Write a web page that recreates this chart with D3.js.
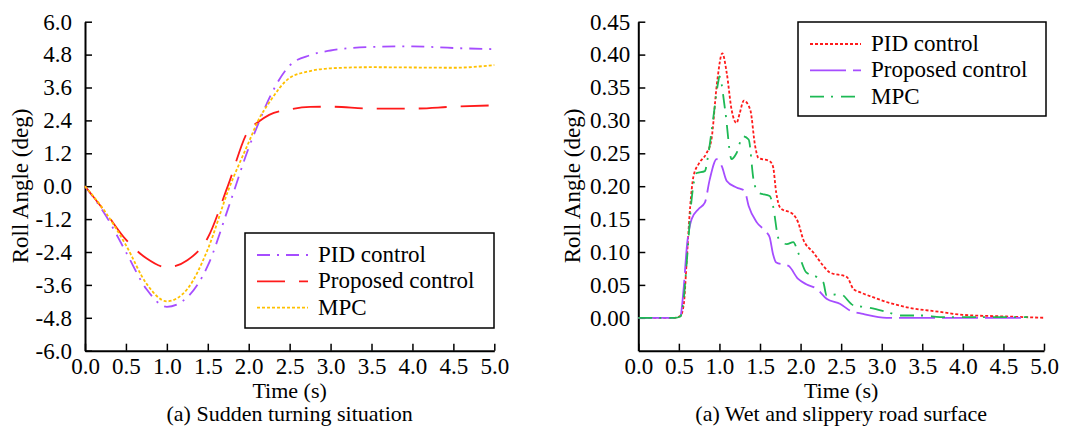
<!DOCTYPE html>
<html>
<head>
<meta charset="utf-8">
<script src="https://cdn.jsdelivr.net/npm/d3@7"></script>
<style>
  body { margin: 0; background: #fff; }
</style>
</head>
<body>
<div id="chart"></div>
<script>
// (a) sudden turning: shared time grid
const turnTime = [0, 0.25, 0.5, 0.75, 1.0, 1.25, 1.5, 1.75, 2.0, 2.12, 2.25, 2.5, 2.75, 3.0, 3.5, 4.0, 4.5, 5.0];
const turnPID  = [0, -1.05, -2.4, -3.75, -4.4, -4.05, -2.9, -0.8, 1.4, 2.3, 3.2, 4.4, 4.78, 4.95, 5.08, 5.1, 5.04, 5.0];
const turnProp = [0, -0.95, -1.95, -2.63, -2.96, -2.7, -1.88, 0.05, 2.05, 2.35, 2.6, 2.8, 2.89, 2.9, 2.83, 2.83, 2.9, 2.95];
const turnMPC  = [0, -0.95, -2.15, -3.55, -4.2, -3.75, -2.3, -0.15, 1.6, 2.42, 3.05, 3.95, 4.2, 4.3, 4.34, 4.33, 4.32, 4.42];

// (a) wet road: each series has its own time points
const wetPIDT  = [0, 0.45, 0.52, 0.56, 0.6, 0.64, 0.68, 0.75, 0.84, 0.9, 0.97, 1.035, 1.09, 1.15, 1.21, 1.25, 1.3, 1.38, 1.44, 1.48, 1.62, 1.66, 1.7, 1.75, 1.91, 1.97, 2.03, 2.16, 2.28, 2.36, 2.57, 2.65, 2.73, 2.9, 3.06, 3.31, 3.72, 4.0, 4.54, 5.0];
const wetPIDV  = [0, 0, 0.003, 0.02, 0.094, 0.17, 0.215, 0.235, 0.25, 0.27, 0.357, 0.402, 0.372, 0.316, 0.296, 0.311, 0.33, 0.316, 0.261, 0.243, 0.238, 0.23, 0.19, 0.167, 0.157, 0.145, 0.12, 0.099, 0.079, 0.069, 0.062, 0.044, 0.039, 0.031, 0.024, 0.016, 0.009, 0.0045, 0.002, 0];
const wetPropT = [0, 0.45, 0.52, 0.555, 0.6, 0.657, 0.74, 0.82, 0.88, 0.966, 1.03, 1.09, 1.21, 1.31, 1.36, 1.46, 1.58, 1.62, 1.66, 1.7, 1.85, 1.97, 2.07, 2.2, 2.32, 2.49, 2.61, 2.77, 3.06, 4.8];
const wetPropV = [0, 0, 0.003, 0.039, 0.11, 0.15, 0.165, 0.175, 0.21, 0.241, 0.23, 0.208, 0.198, 0.193, 0.17, 0.145, 0.13, 0.122, 0.097, 0.084, 0.079, 0.059, 0.051, 0.044, 0.029, 0.021, 0.011, 0.006, 0, 0];
const wetMPCT  = [0, 0.45, 0.52, 0.555, 0.6, 0.657, 0.72, 0.82, 0.86, 0.92, 0.986, 1.0, 1.07, 1.15, 1.21, 1.29, 1.36, 1.42, 1.48, 1.62, 1.66, 1.73, 1.83, 1.91, 1.97, 2.07, 2.2, 2.28, 2.32, 2.49, 2.65, 2.81, 3.06, 3.23, 3.51, 3.72, 4.8];
const wetMPCV  = [0, 0, 0.002, 0.024, 0.089, 0.18, 0.22, 0.223, 0.246, 0.3, 0.359, 0.367, 0.316, 0.241, 0.25, 0.276, 0.271, 0.21, 0.19, 0.185, 0.17, 0.12, 0.112, 0.115, 0.099, 0.069, 0.062, 0.054, 0.034, 0.036, 0.019, 0.016, 0.009, 0.0035, 0.0035, 0.001, 0.001];

const xTicks = [0, 0.5, 1, 1.5, 2, 2.5, 3, 3.5, 4, 4.5, 5];
const turnYTicks = [-6, -4.8, -3.6, -2.4, -1.2, 0, 1.2, 2.4, 3.6, 4.8, 6];
const wetYTicks = [0, 0.05, 0.1, 0.15, 0.2, 0.25, 0.3, 0.35, 0.4, 0.45];

const PURPLE = "#a64dff", RED = "#ff1a1a", ORANGE = "#ffc000", GREEN = "#1db954";
const FONT = 23;
const SERIF = "'Times New Roman', 'Liberation Serif', serif";

const svg = d3.select("#chart").append("svg")
  .attr("width", 1067).attr("height", 428)
  .attr("font-family", SERIF);

const zip = (ts, vs) => ts.map((t, i) => ({t: t, v: vs[i]}));
const fmt = p => d => d3.format(p)(d).replace("\u2212", "-");

function addText(x, y, str, anchor, size) {
  return svg.append("text").attr("x", x).attr("y", y)
    .attr("font-family", SERIF).attr("font-size", size || FONT)
    .attr("text-anchor", anchor || "start").attr("fill", "#000").text(str);
}

function drawPanel(cfg) {
  const x = d3.scaleLinear().domain([0, 5]).range([cfg.left, cfg.right]);
  const y = d3.scaleLinear().domain(cfg.yDomain).range([350.7, 21.7]);

  const gy = svg.append("g")
    .attr("transform", `translate(${cfg.left},0)`)
    .call(d3.axisLeft(y).tickValues(cfg.yTicks).tickSizeInner(-7).tickSizeOuter(0)
      .tickPadding(cfg.yPad).tickFormat(cfg.yFormat));
  const gx = svg.append("g")
    .attr("transform", `translate(0,350.7)`)
    .call(d3.axisBottom(x).tickValues(xTicks).tickSizeInner(-7).tickSizeOuter(0)
      .tickPadding(7).tickFormat(fmt(".1f")));
  [gx, gy].forEach(g => {
    g.attr("font-family", SERIF).attr("font-size", FONT);
    g.selectAll("text").attr("font-family", SERIF).attr("font-size", FONT);
    g.select(".domain").attr("stroke-width", 2);
    g.selectAll(".tick line").attr("stroke-width", 1.5);
  });

  const line = d3.line()
    .x(d => x(d.t))
    .y(d => y(d.v))
    .curve(d3.curveMonotoneX);

  cfg.series.forEach(s => {
    svg.append("path")
      .datum(s.data)
      .attr("fill", "none")
      .attr("stroke", s.color)
      .attr("stroke-width", 1.8)
      .attr("stroke-dasharray", s.dash)
      .attr("d", line);
  });

  const mid = (cfg.left + cfg.right) / 2;
  addText(mid, 398, "Time (s)", "middle", 22);
  addText(mid, 421, cfg.caption, "middle", 22);
  addText(0, 0, "Roll Angle (deg)", "middle")
    .attr("transform", `translate(${cfg.titleX},186) rotate(-90)`);

  // legend
  const lg = cfg.legend;
  svg.append("rect")
    .attr("x", lg.x).attr("y", lg.y).attr("width", lg.w).attr("height", lg.h)
    .attr("fill", "#fff").attr("stroke", "#000").attr("stroke-width", 1.5);
  cfg.series.forEach((s, i) => {
    const ly = lg.y + 22 + i * 26.3;
    svg.append("line")
      .attr("x1", lg.x + 12).attr("x2", lg.x + 63).attr("y1", ly).attr("y2", ly)
      .attr("stroke", s.color).attr("stroke-width", 1.8).attr("stroke-dasharray", s.dash);
    addText(lg.x + 73, ly + 7, s.name);
  });
}

drawPanel({
  left: 85, right: 494.3,
  yDomain: [-6, 6], yTicks: turnYTicks, yPad: 13, yFormat: fmt(".1f"),
  titleX: 28, caption: "(a) Sudden turning situation",
  legend: {x: 245, y: 233, w: 249, h: 95},
  series: [
    {name: "PID control", color: PURPLE, dash: "13,7,2,7", data: zip(turnTime, turnPID)},
    {name: "Proposed control", color: RED, dash: "28,14", data: zip(turnTime, turnProp)},
    {name: "MPC", color: ORANGE, dash: "3,2", data: zip(turnTime, turnMPC)}
  ]
});

drawPanel({
  left: 638.3, right: 1044,
  yDomain: [-0.05, 0.45], yTicks: wetYTicks, yPad: 8, yFormat: fmt(".2f"),
  titleX: 580, caption: "(a) Wet and slippery road surface",
  legend: {x: 798, y: 22, w: 248, h: 94},
  series: [
    {name: "PID control", color: RED, dash: "3,2", data: zip(wetPIDT, wetPIDV)},
    {name: "Proposed control", color: PURPLE, dash: "36,7", data: zip(wetPropT, wetPropV)},
    {name: "MPC", color: GREEN, dash: "14,7,2,8", data: zip(wetMPCT, wetMPCV)}
  ]
});
</script>
</body>
</html>
